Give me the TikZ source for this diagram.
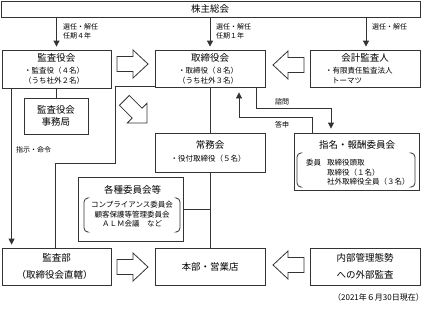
\documentclass[tikz,border=0pt]{standalone}
\usepackage{fontspec}
\setmainfont{Noto Sans CJK JP}
\usetikzlibrary{arrows.meta}
\tikzset{
  box/.style={draw=black!80, line width=0.8pt, inner sep=0pt, align=center},
  conn/.style={draw=black!80, line width=0.8pt},
  arr/.style={conn, -{Triangle[length=6pt,width=6pt]}},
  lbl/.style={font=\fontsize{7}{9}\selectfont, inner sep=0pt, align=left},
  ttl/.style={font=\fontsize{9.5}{11}\selectfont, inner sep=0pt},
  sub/.style={font=\fontsize{7.5}{9}\selectfont, inner sep=0pt},
  blk/.style={draw=black!80, line width=0.8pt, fill=white, line join=miter},
  paren/.style={draw=black!80, line width=0.8pt, rounded corners=4pt},
}
\newcommand\blockarr[2]{%
  \draw[blk, shift={#1}, rotate=#2] (-15.5,-7.5) -- (0.5,-7.5) -- (0.5,-14) -- (15.5,0) -- (0.5,14) -- (0.5,7.5) -- (-15.5,7.5) -- cycle;}
\begin{document}
\begin{tikzpicture}[x=1pt,y=-1pt]
\useasboundingbox (0,0) rectangle (426,311);
% boxes
\node[box, minimum width=419pt, minimum height=16pt] (soukai) at (210.5,9) {};
\node[ttl] (soukaiT) at (210,9) {株主総会};
\node[box, minimum width=109pt, minimum height=38pt] (kyak) at (56.5,69) {};
\node[ttl] (kyakT) at (56.5,58) {監査役会};
\node[sub] (kyak1) at (54,70.5) {・監査役（４名）};
\node[sub] (kyak2) at (54,80.5) {（うち社外２名）};
\node[box, minimum width=110pt, minimum height=37pt] (tori) at (210,68.5) {};
\node[ttl] (toriT) at (210,58) {取締役会};
\node[sub] (tori1) at (208,70.5) {・取締役（８名）};
\node[sub] (tori2) at (208,80.5) {（うち社外３名）};
\node[box, minimum width=110pt, minimum height=37pt] (kaikei) at (365,68.5) {};
\node[ttl] (kaikeiT) at (365,58) {会計監査人};
\node[sub, anchor=west] (kaikei1) at (325,70.5) {・有限責任監査法人};
\node[sub, anchor=west] (kaikei2) at (332,80.5) {トーマツ};
\node[box, minimum width=64pt, minimum height=36pt] (jimu) at (56,116) {};
\node[ttl, align=center, font=\fontsize{9.5}{11.5}\selectfont] (jimuT) at (56,116) {監査役会\\事務局};
\node[box, minimum width=110pt, minimum height=39pt] (joumu) at (210,152.5) {};
\node[ttl] (joumuT) at (210,144.5) {常務会};
\node[sub] (joumu1) at (208,158.5) {・役付取締役（５名）};
\node[box, minimum width=125pt, minimum height=57pt] (shimei) at (356.5,161.5) {};
\node[ttl] (shimeiT) at (357,145) {指名・報酬委員会};
\node[sub, anchor=west] (shimei0) at (306,163) {委員};
\node[sub, anchor=west] (shimei1) at (327,163) {取締役頭取};
\node[sub, anchor=west] (shimei2) at (327,172.5) {取締役（１名）};
\node[sub, anchor=west] (shimei3) at (327,182) {社外取締役全員（３名）};
\node[box, minimum width=105pt, minimum height=64pt] (kaku) at (130.5,209) {};
\node[ttl] (kakuT) at (132.5,190) {各種委員会等};
\node[sub] (kaku1) at (132,205) {コンプライアンス委員会};
\node[sub] (kaku2) at (132,214.5) {顧客保護等管理委員会};
\node[sub] (kaku3) at (132,224) {ＡＬＭ会議　など};
\node[box, minimum width=109pt, minimum height=37pt] (kansabu) at (56.5,266.5) {};
\node[ttl] (kansabuT) at (56.5,258) {監査部};
\node[ttl] (kansabu1) at (54.5,275) {（取締役会直轄）};
\node[box, minimum width=110pt, minimum height=37pt] (honbu) at (210,266.5) {};
\node[ttl] (honbuT) at (210,266.5) {本部・営業店};
\node[box, minimum width=110pt, minimum height=37pt] (naibu) at (365,266.5) {};
\node[ttl, align=center, font=\fontsize{9.5}{17}\selectfont] (naibuT) at (365,266.5) {内部管理態勢\\への外部監査};
% parentheses
\draw[paren] (300,153) -- (297,153) -- (297,187) -- (300,187);
\draw[paren] (412,153) -- (415,153) -- (415,187) -- (412,187);
\draw[paren] (87,198) -- (84,198) -- (84,232) -- (87,232);
\draw[paren] (177,198) -- (180,198) -- (180,232) -- (177,232);
% connectors from shareholders
\draw[arr, shorten >=3pt] (kyak.north |- soukai.south) -- (kyak.north);
\draw[arr, shorten >=3pt] (tori.north |- soukai.south) -- (tori.north);
\draw[arr, shorten >=3pt] ([xshift=1pt]kaikei.north |- soukai.south) -- ([xshift=1pt]kaikei.north);
\node[lbl, anchor=north west] (l1) at (63,23) {選任・解任\\任期４年};
\node[lbl, anchor=north west] (l2) at (216,23) {選任・解任\\任期１年};
\node[lbl, anchor=north west] (l3) at (372,23) {選任・解任};
% audit board lines
\draw[conn] (kyak.south -| jimu.north) -- (jimu.north);
\draw[arr, shorten >=3pt] ([xshift=10pt]kyak.south west) -- ([xshift=10pt]kansabu.north west);
\node[lbl, anchor=west] (l4) at (16,150) {指示・命令};
% board to audit dept
\coordinate (c1) at (115,163);
\coordinate (c2) at (55,163);
\draw[conn] ([yshift=1.5pt]tori.south west) -| (c1) -- (c2) -- (c2 |- kansabu.north);
% central spine
\draw[conn] (tori.south) -- (joumu.north);
\draw[conn] (joumu.south) -- (honbu.north);
\draw[conn] (kaku.east) -- (kaku.east -| joumu.south);
% consult / report
\coordinate (s1) at (331,108);
\draw[arr, shorten >=4pt] ([xshift=-9pt]tori.south east) |- (s1) -- (s1 |- shimei.north);
\coordinate (t1) at (239,117);
\draw[arr, shorten >=5pt] ([xshift=19pt]shimei.north west) |- (t1) -- (t1 |- tori.south);
\node[lbl, anchor=center] (l5) at (282,102) {諮問};
\node[lbl, anchor=center] (l6) at (282,125) {答申};
% block arrows
\blockarr{(132.5,64)}{0}
\blockarr{(288.5,65)}{180}
\blockarr{(132.5,267)}{0}
\blockarr{(288.5,265)}{180}
\draw[blk, shift={(135.7,111.7)}, rotate=-45] (-16,-7) -- (2,-7) -- (2,-14) -- (16,0) -- (2,14) -- (2,7) -- (-16,7) -- cycle;
% footer
\node[sub, anchor=east, font=\fontsize{8}{10}\selectfont] (foot) at (424,297) {（2021年６月30日現在）};
\end{tikzpicture}
\end{document}
